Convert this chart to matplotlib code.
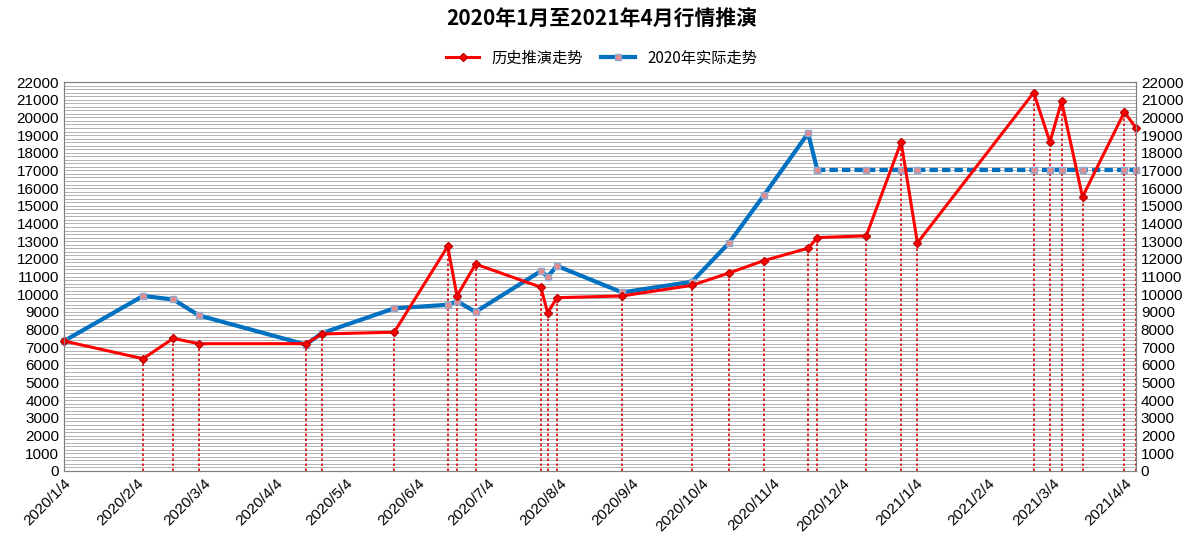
import datetime as dt
import numpy as np
import matplotlib
matplotlib.use("Agg")
import matplotlib.pyplot as plt

plt.rcParams["font.family"] = ["Liberation Sans", "Noto Sans CJK SC"]

dates = ["2020-01-04", "2020-02-07", "2020-02-20", "2020-03-02", "2020-04-17", "2020-04-24",
         "2020-05-25", "2020-06-17", "2020-06-21", "2020-06-29", "2020-07-27", "2020-07-30",
         "2020-08-03", "2020-08-31", "2020-09-30", "2020-10-16", "2020-10-31", "2020-11-19",
         "2020-11-23", "2020-12-14", "2020-12-29", "2021-01-05", "2021-02-24", "2021-03-03",
         "2021-03-08", "2021-03-17", "2021-04-04", "2021-04-09"]
hist = [7350, 6350, 7500, 7200, 7200, 7750, 7850, 12700, 9900, 11700, 10400, 8950,
        9800, 9900, 10500, 11200, 11900, 12600, 13200, 13300, 18600, 12900, 21400, 18600,
        20900, 15500, 20300, 19400]
actual = [7350, 9900, 9700, 8800, 7150, 7800, 9200, 9400, 9600, 9000, 11300, 11000,
          11600, 10100, 10700, 12900, 15600, 19100, 17000]
forecast_flat = 17000
tick_labels = ["2020/1/4", "2020/2/4", "2020/3/4", "2020/4/4", "2020/5/4", "2020/6/4",
               "2020/7/4", "2020/8/4", "2020/9/4", "2020/10/4", "2020/11/4", "2020/12/4",
               "2021/1/4", "2021/2/4", "2021/3/4", "2021/4/4"]

x = [dt.datetime.strptime(d, "%Y-%m-%d") for d in dates]
n_act = len(actual)

fig = plt.figure(figsize=(12.03, 5.52), dpi=100)
ax = fig.add_axes([64 / 1203, 81 / 552, (1136 - 64) / 1203, (471 - 82) / 552])

ax.set_ylim(0, 22000)
ax.set_xlim(x[0], x[-1])
for v in np.arange(0, 22001, 200):
    ax.axhline(v, color="#a6a6a6", lw=0.6, zorder=0)

ax.vlines(x, 0, hist, colors="#e00000", linestyles=(0, (1.5, 1.5)), lw=1.2, zorder=1)

ax.plot(x[:n_act], actual, color="#0070c0", lw=3, marker="s", ms=4,
        mfc="#e88a8a", mec="#8fa8d0", zorder=2, label="2020年实际走势", clip_on=False)
ax.plot(x[n_act - 1:], [forecast_flat] * (len(x) - n_act + 1), color="#0070c0", lw=3,
        ls=(0, (2, 1)), marker="s", ms=4, mfc="#e88a8a", mec="#8fa8d0", zorder=2, clip_on=False)
ax.plot(x, hist, color="#ff0000", lw=2.2, marker="D", ms=4.5, mfc="#ff0000",
        mec="#c00000", zorder=3, label="历史推演走势", clip_on=False)

ax.set_yticks(np.arange(0, 22001, 1000))
ax.tick_params(axis="y", labelsize=11, length=0)
ax.tick_params(axis="x", labelsize=11, length=0)
ax2 = ax.twinx()
ax2.set_ylim(0, 22000)
ax2.set_yticks(np.arange(0, 22001, 1000))
ax2.tick_params(axis="y", labelsize=11, length=0)

ticks = [dt.datetime.strptime(t, "%Y/%m/%d") for t in tick_labels]
ax.set_xticks(ticks)
ax.set_xticklabels(tick_labels, rotation=45, ha="right", rotation_mode="anchor")
for a in (ax, ax2):
    for s in a.spines.values():
        s.set_color("#808080")

handles, labels = ax.get_legend_handles_labels()
fig.legend(handles[::-1], labels[::-1], loc="upper center", bbox_to_anchor=(0.5, 0.935),
           ncol=2, frameon=False, fontsize=11, handlelength=2.2, columnspacing=1.2,
           prop={"family": "Noto Sans CJK SC", "size": 11})
fig.suptitle("2020年1月至2021年4月行情推演", y=0.985, fontsize=15, fontweight="bold",
             fontfamily="Noto Sans CJK SC")

fig.savefig("out.png", dpi=100)
